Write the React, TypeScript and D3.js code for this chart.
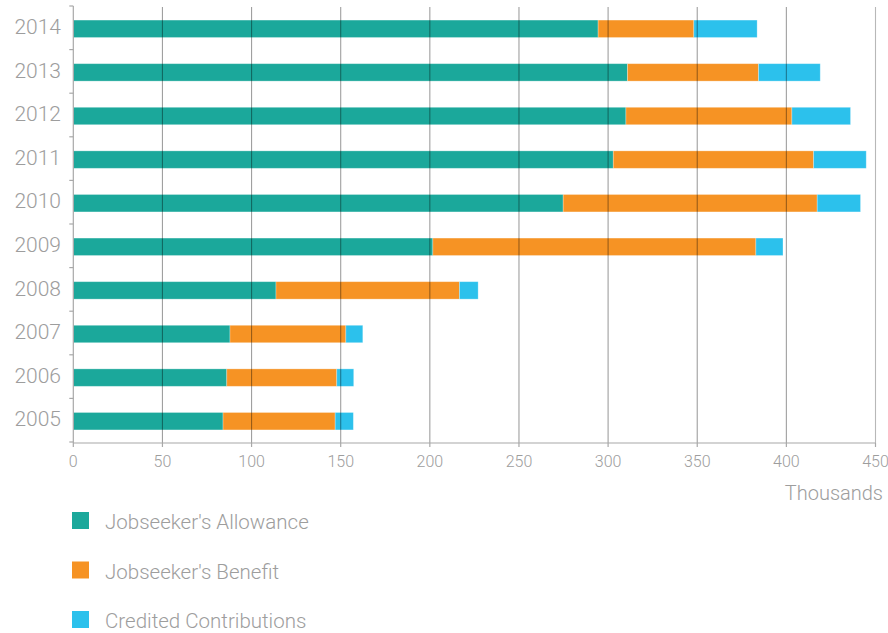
import React from "react";
import * as d3 from "d3";

const years = ["2014", "2013", "2012", "2011", "2010", "2009", "2008", "2007", "2006", "2005"];
const seriesNames = ["Jobseeker's Allowance", "Jobseeker's Benefit", "Credited Contributions"];
const allowance = [294.4, 310.9, 310, 302.9, 274.8, 201.7, 113.7, 87.9, 86.1, 84];
const benefit = [53.7, 73.5, 93.1, 112.4, 142.5, 181.2, 102.9, 65, 61.7, 62.9];
const credited = [35.5, 34.6, 32.9, 29.5, 24.3, 15.2, 10.5, 9.5, 9.5, 10.2];
const xTicks = [0, 50, 100, 150, 200, 250, 300, 350, 400, 450];
const colors = ["#1ba89b", "#f69324", "#2cc1ec"];

export default function App() {
  const W = 888;
  const H = 633;
  const x0 = 73.3;
  const x1 = 875.5;
  const yTop = 7;
  const yBot = 443;
  const x = d3.scaleLinear().domain([0, 450]).range([x0, x1]);
  const y = d3.scaleBand<string>().domain(years).range([yTop, yBot]).paddingInner(0.6).paddingOuter(0.3);
  const rows = years.map((yr, i) => ({ year: yr, a: allowance[i], b: benefit[i], c: credited[i] }));
  const stack = d3.stack<any>().keys(["a", "b", "c"])(rows);
  const font = "Roboto, 'Open Sans', sans-serif";
  const textColor = "#9d9d9d";
  const step = y.step();

  return (
    <svg width={W} height={H} style={{ position: "absolute", left: 0, top: 0, background: "#fff" }}>
      {stack.map((layer, li) => (
        <g key={li} fill={colors[li]}>
          {layer.map((d: any, i: number) => (
            <rect
              key={i}
              x={x(d[0])}
              y={y(d.data.year)!}
              width={x(d[1]) - x(d[0])}
              height={y.bandwidth()}
              stroke="rgba(255,255,255,0.35)"
              strokeWidth={0.8}
            />
          ))}
        </g>
      ))}
      {xTicks.filter((t) => t > 0).map((t) => (
        <line key={t} x1={x(t)} x2={x(t)} y1={yTop} y2={yBot} stroke="#000" strokeOpacity={t === 450 ? 0.28 : 0.38} strokeWidth={1.1} />
      ))}
      {/* y axis */}
      <line x1={x0} x2={x0} y1={yTop - 1} y2={yBot} stroke="#a8a8a8" strokeWidth={1.2} />
      {d3.range(years.length + 1).map((i) => (
        <line key={i} x1={x0 - 4} x2={x0} y1={yTop - 1 + i * step} y2={yTop - 1 + i * step} stroke="#a8a8a8" strokeWidth={1.2} />
      ))}
      {years.map((yr) => (
        <text key={yr} x={61} y={y(yr)! + y.bandwidth() / 2} dy="0.25em" textAnchor="end" fontFamily={font} fontWeight={300} fontSize={21} fill={textColor}>
          {yr}
        </text>
      ))}
      {/* x axis */}
      <line x1={x0} x2={x1} y1={yBot} y2={yBot} stroke="#a8a8a8" strokeWidth={1.2} />
      {xTicks.map((t) => (
        <g key={t}>
          <line x1={x(t)} x2={x(t)} y1={yBot} y2={yBot + 4} stroke="#a8a8a8" strokeWidth={1.2} />
          <text x={x(t)} y={467} textAnchor="middle" fontFamily={font} fontWeight={300} fontSize={16} fill={textColor}>
            {t}
          </text>
        </g>
      ))}
      <text x={883} y={500} textAnchor="end" fontFamily={font} fontWeight={300} fontSize={20} fill={textColor}>
        Thousands
      </text>
      {/* legend */}
      {seriesNames.map((name, i) => (
        <g key={name} transform={`translate(72, ${512 + i * 49.5})`}>
          <rect x={0} y={0} width={17} height={17} fill={colors[i]} />
          <text x={33} y={17} fontFamily={font} fontWeight={300} fontSize={20.5} fill={textColor}>
            {name}
          </text>
        </g>
      ))}
    </svg>
  );
}
